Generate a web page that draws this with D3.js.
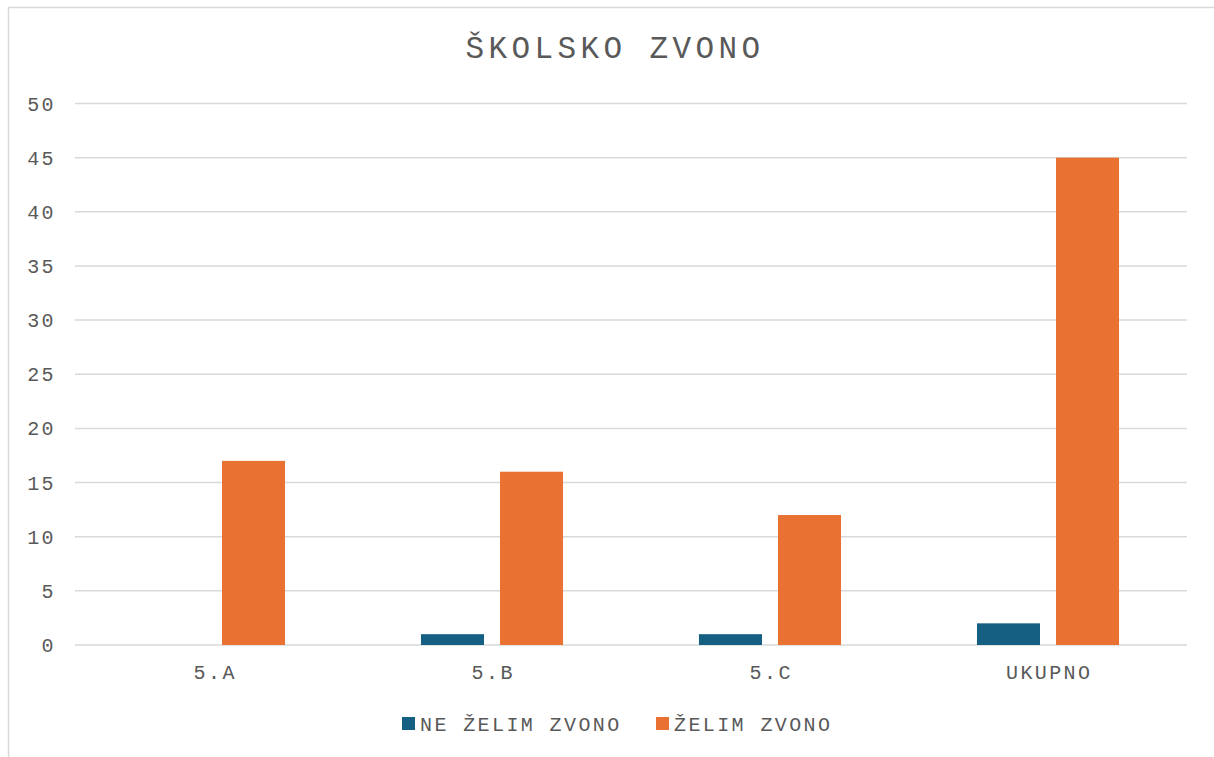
<!DOCTYPE html>
<html>
<head>
<meta charset="utf-8">
<script src="https://cdn.jsdelivr.net/npm/d3@7"></script>
<style>
  html, body { margin: 0; padding: 0; background: #fff; }
  text { font-family: "Liberation Mono", "DejaVu Sans Mono", monospace; fill: #595959; }
</style>
</head>
<body>
<svg id="chart" width="1214" height="757"></svg>
<script>
const title = "ŠKOLSKO ZVONO";
const categories = ["5.A", "5.B", "5.C", "UKUPNO"];
const seriesNames = ["NE ŽELIM ZVONO", "ŽELIM ZVONO"];
const neZelim = [0, 1, 1, 2];
const zelim = [17, 16, 12, 45];
const yTicks = [0, 5, 10, 15, 20, 25, 30, 35, 40, 45, 50];
const colors = ["#156082", "#e97132"];

const seriesValues = [neZelim, zelim];
const svg = d3.select("#chart");

// chart border (only top & left visible in frame)
svg.append("path")
  .attr("d", "M8.5,757 L8.5,7.5 L1214,7.5")
  .attr("fill", "none").attr("stroke", "#d9d9d9").attr("stroke-width", 1.5);

const plot = { left: 75, right: 1187, top: 103.5, bottom: 645 };

const y = d3.scaleLinear().domain([0, 50]).range([plot.bottom, plot.top]);
const x0 = d3.scaleBand().domain(categories).range([plot.left, plot.right])
  .paddingInner(0.489).paddingOuter(0.489 / 2);
const x1 = d3.scaleBand().domain(seriesNames).range([0, x0.bandwidth()])
  .paddingInner(16 / 79).paddingOuter(0);

// gridlines
svg.append("g").selectAll("line").data(yTicks).join("line")
  .attr("x1", plot.left).attr("x2", plot.right)
  .attr("y1", d => y(d)).attr("y2", d => y(d))
  .attr("stroke", "#d9d9d9").attr("stroke-width", 1.5);

// y tick labels
svg.append("g").selectAll("text").data(yTicks).join("text")
  .attr("x", 56).attr("y", d => y(d) + 7)
  .attr("text-anchor", "end")
  .attr("font-size", 20).attr("letter-spacing", 2.4)
  .text(d => d);

// bars
const groups = svg.append("g").selectAll("g").data(categories).join("g")
  .attr("transform", c => `translate(${x0(c)},0)`);
groups.selectAll("rect")
  .data((c, i) => seriesNames.map((s, j) => ({ s, j, v: seriesValues[j][i] })))
  .join("rect")
  .attr("x", d => x1(d.s))
  .attr("width", x1.bandwidth())
  .attr("y", d => y(d.v))
  .attr("height", d => plot.bottom - y(d.v))
  .attr("fill", d => colors[d.j]);

// category labels
svg.append("g").selectAll("text").data(categories).join("text")
  .attr("x", c => x0(c) + x0.bandwidth() / 2 + 1.2)
  .attr("y", 679)
  .attr("text-anchor", "middle")
  .attr("font-size", 20).attr("letter-spacing", 2.4)
  .text(c => c);

// title
svg.append("text")
  .attr("x", 615).attr("y", 58)
  .attr("text-anchor", "middle")
  .attr("font-size", 31).attr("letter-spacing", 4.4)
  .text(title);

// legend
const legendX = [402, 656];
const lg = svg.append("g").selectAll("g").data(seriesNames).join("g")
  .attr("transform", (d, i) => `translate(${legendX[i]},717)`);
lg.append("rect").attr("width", 13).attr("height", 13)
  .attr("fill", (d, i) => colors[i]);
lg.append("text").attr("x", 18).attr("y", 14)
  .attr("font-size", 20).attr("letter-spacing", 2.4)
  .text(d => d);
</script>
</body>
</html>
